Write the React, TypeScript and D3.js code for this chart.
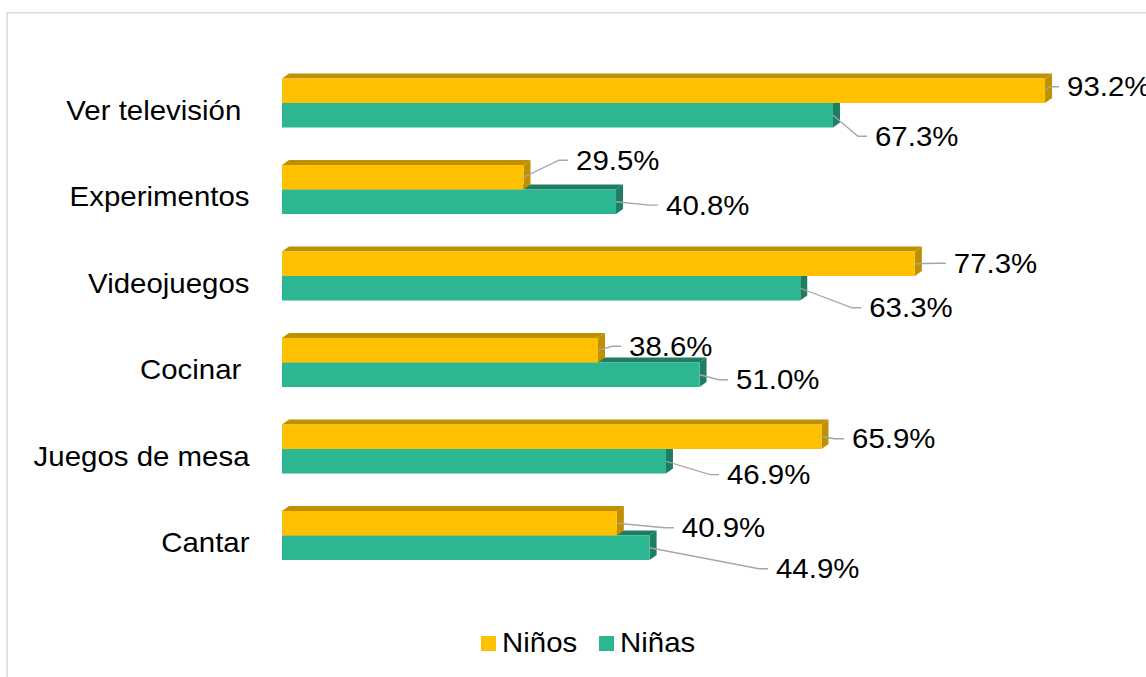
import React from "react";
import * as d3 from "d3";

const categories = ["Ver televisión ", "Experimentos", "Videojuegos", "Cocinar ", "Juegos de mesa", "Cantar"];
const ninos = [93.2, 29.5, 77.3, 38.6, 65.9, 40.9];
const ninas = [67.3, 40.8, 63.3, 51.0, 46.9, 44.9];
const seriesNames = ["Niños", "Niñas"];
// label placement (layout): [dx from bar end, dy from bar centre]
const offsetsNinos = [[23, -4], [53.5, -17], [40, -0.5], [32, -4], [31.5, 2], [66, 4.5]];
const offsetsNinas = [[43, 21], [51, 3.3], [70, 19.5], [37.5, 5], [62, 13.3], [127.4, 21]];

const W = 1146;
const H = 677;
const FRONT = ["#FFC000", "#2DB692"];
const DARK = ["#BF9000", "#1F7D64"];
const FONT = "'Liberation Sans', Arial, sans-serif";
const FS = 27;
const SX = 1.09;
const DX = 7;
const DY = 5;

function T({ x, y, children, anchor = "start" }: any) {
  return (
    <text
      transform={`translate(${x},${y}) scale(${SX},1)`}
      textAnchor={anchor}
      fontFamily={FONT}
      fontSize={FS}
      fill="#000"
      style={{ whiteSpace: "pre" }}
    >
      {children}
    </text>
  );
}

export default function App() {
  const x = d3.scaleLinear().domain([0, 100]).range([282, 282 + 818.7]);
  const row = d3.scalePoint<string>().domain(categories).range([103, 535.5]);
  const sub = d3.scaleBand<string>().domain(seriesNames).range([-24.5, 24.5]);
  const bh = sub.bandwidth();
  const series = [ninos, ninas];
  const offs = [offsetsNinos, offsetsNinas];

  const bar = (s: number, i: number) => {
    const v = series[s][i];
    const x0 = x(0);
    const x1 = x(v);
    const y0 = (row(categories[i]) as number) + (sub(seriesNames[s]) as number);
    const y1 = y0 + bh;
    const top = `M${x0},${y0} L${x0 + DX},${y0 - DY} L${x1 + DX},${y0 - DY} L${x1},${y0} Z`;
    const side = `M${x1},${y0} L${x1 + DX},${y0 - DY} L${x1 + DX},${y1 - DY} L${x1},${y1} Z`;
    return (
      <g key={`b${s}-${i}`}>
        <path d={top} fill={DARK[s]} />
        <path d={side} fill={DARK[s]} />
        <rect x={x0} y={y0} width={x1 - x0} height={bh} fill={FRONT[s]} />
      </g>
    );
  };

  const label = (s: number, i: number) => {
    const v = series[s][i];
    const x1 = x(v);
    const cy = (row(categories[i]) as number) + (sub(seriesNames[s]) as number) + bh / 2;
    const [dx, dy] = offs[s][i];
    const tx = x1 + dx;
    const ty = cy + dy;
    const line = d3.line()([
      [x1, cy],
      [tx - 18, ty],
      [tx - 9, ty],
    ]);
    return (
      <g key={`l${s}-${i}`}>
        <path d={line as string} fill="none" stroke="#A6A6A6" strokeWidth={1.3} />
        <T x={tx - 1} y={ty + 9.7}>{`${d3.format(".1f")(v)}%`}</T>
      </g>
    );
  };

  const legendItems = [
    { name: seriesNames[0], bx: 481, tx: 503 },
    { name: seriesNames[1], bx: 599, tx: 621 },
  ];

  return (
    <svg
      width={W}
      height={H}
      style={{ position: "absolute", left: 0, top: 0, background: "#fff" }}
    >
      <rect x={0} y={0} width={W} height={H} fill="#fff" />
      <path d={`M7,${H} L7,12.7 L${W},12.7`} fill="none" stroke="#D9D9D9" strokeWidth={1.5} />
      {categories.map((c, i) => (
        <T key={c} x={249.5} y={(row(c) as number) + 16.5} anchor="end">
          {c}
        </T>
      ))}
      {categories.map((_, i) => (
        <g key={`g${i}`}>
          {bar(1, i)}
          {bar(0, i)}
        </g>
      ))}
      {categories.map((_, i) => label(0, i))}
      {categories.map((_, i) => label(1, i))}
      {legendItems.map((d, k) => (
        <g key={d.name}>
          <rect x={d.bx} y={636} width={15} height={15} fill={FRONT[k]} />
          <T x={d.tx - 1} y={651.5}>{d.name}</T>
        </g>
      ))}
    </svg>
  );
}
